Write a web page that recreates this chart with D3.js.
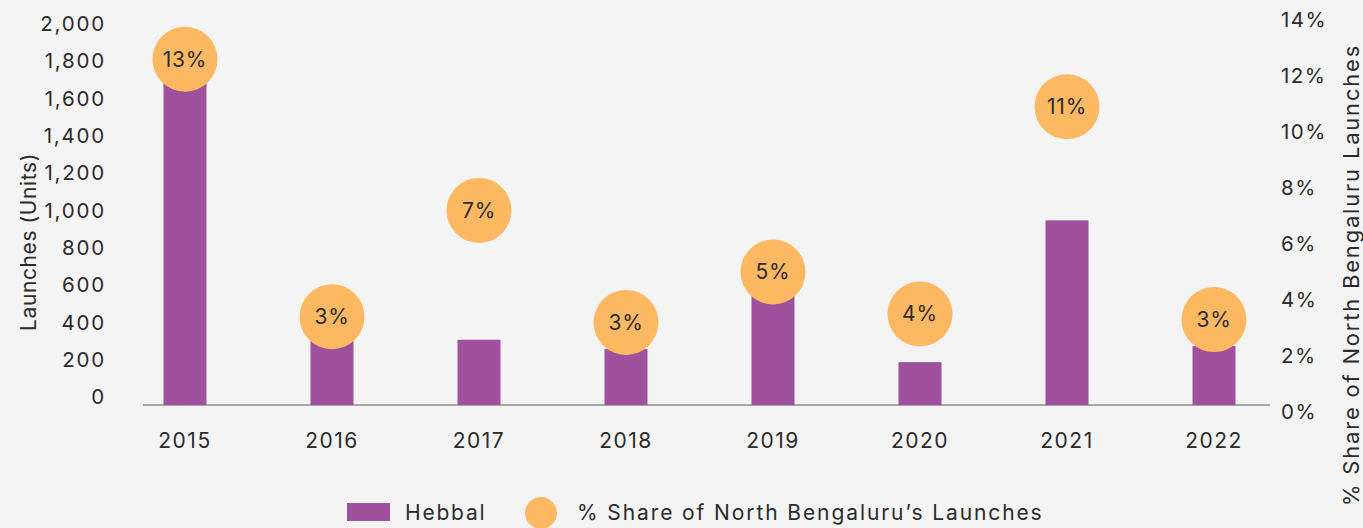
<!DOCTYPE html>
<html>
<head>
<meta charset="utf-8">
<script src="https://cdn.jsdelivr.net/npm/d3@7"></script>
<style>
  body { margin: 0; background: #f4f4f4; }
  svg { display: block; font-family: Inter, "Open Sans", sans-serif; }
</style>
</head>
<body>
<svg id="chart" width="1363" height="528"></svg>
<script>
var years = ["2015", "2016", "2017", "2018", "2019", "2020", "2021", "2022"];
var launches = [1760, 350, 350, 300, 600, 230, 990, 316];
var share = [12.6, 3.4, 7.2, 3.2, 5.0, 3.5, 10.9, 3.3];
var leftTicks = [0, 200, 400, 600, 800, 1000, 1200, 1400, 1600, 1800, 2000];
var rightTicks = [0, 2, 4, 6, 8, 10, 12, 14];

var svg = d3.select("#chart");
var purple = "#a0519e", orange = "#fdb962", txt = "#2b2b2b";

var x = d3.scalePoint().domain(years).range([111.5, 1287.5]).padding(0.5);
var yL = d3.scaleLinear().domain([0, 2000]).range([405, 32]);
var yR = d3.scaleLinear().domain([0, 14]).range([412, 20]);

// baseline
svg.append("line")
    .attr("x1", 143).attr("x2", 1270)
    .attr("y1", yL(0)).attr("y2", yL(0))
    .attr("stroke", "#8c8c8c").attr("stroke-width", 1.5);

// left axis labels
var fmt = d3.format(",");
svg.append("g").selectAll("text")
    .data(leftTicks)
    .enter().append("text")
    .attr("x", 106)
    .attr("y", function(d) { return yL(d) - 8; })
    .attr("dy", "0.35em")
    .attr("text-anchor", "end")
    .attr("font-size", 20.5)
    .attr("letter-spacing", 1.8)
    .attr("fill", txt)
    .text(function(d) { return fmt(d); });

// right axis labels
svg.append("g").selectAll("text")
    .data(rightTicks)
    .enter().append("text")
    .attr("x", 1281)
    .attr("y", function(d) { return yR(d); })
    .attr("dy", "0.35em")
    .attr("font-size", 20.5)
    .attr("letter-spacing", 1.5)
    .attr("fill", txt)
    .text(function(d) { return d + "%"; });

// x labels
svg.append("g").selectAll("text")
    .data(years)
    .enter().append("text")
    .attr("x", function(d) { return x(d); })
    .attr("y", 441)
    .attr("dy", "0.35em")
    .attr("text-anchor", "middle")
    .attr("font-size", 21)
    .attr("letter-spacing", 1.5)
    .attr("fill", txt)
    .text(function(d) { return d; });

// axis titles
svg.append("text")
    .attr("transform", "translate(36,242) rotate(-90)")
    .attr("text-anchor", "middle")
    .attr("font-size", 21)
    .attr("letter-spacing", 0.6)
    .attr("fill", txt)
    .text("Launches (Units)");

svg.append("text")
    .attr("transform", "translate(1359,275) rotate(-90)")
    .attr("text-anchor", "middle")
    .attr("font-size", 22)
    .attr("letter-spacing", 1.8)
    .attr("fill", txt)
    .text("% Share of North Bengaluru Launches");

// bars
svg.append("g").selectAll("rect")
    .data(years)
    .enter().append("rect")
    .attr("x", function(d) { return x(d) - 21.5; })
    .attr("width", 43)
    .attr("y", function(d, i) { return yL(launches[i]); })
    .attr("height", function(d, i) { return yL(0) - yL(launches[i]); })
    .attr("fill", purple);

// share bubbles
var bub = svg.append("g").selectAll("g")
    .data(years)
    .enter().append("g")
    .attr("transform", function(d, i) { return "translate(" + x(d) + "," + yR(share[i]) + ")"; });

bub.append("circle")
    .attr("r", 32.5)
    .attr("fill", orange);

bub.append("text")
    .attr("text-anchor", "middle")
    .attr("dy", "0.35em")
    .attr("font-size", 21)
    .attr("letter-spacing", 0.8)
    .attr("fill", txt)
    .text(function(d, i) { return Math.round(share[i]) + "%"; });

// legend
svg.append("rect")
    .attr("x", 347).attr("y", 503).attr("width", 43).attr("height", 18)
    .attr("fill", purple);
svg.append("text")
    .attr("x", 405).attr("y", 513).attr("dy", "0.35em")
    .attr("font-size", 21).attr("letter-spacing", 1.8).attr("fill", txt)
    .text("Hebbal");
svg.append("circle")
    .attr("cx", 541).attr("cy", 513).attr("r", 16)
    .attr("fill", orange);
svg.append("text")
    .attr("x", 577).attr("y", 513).attr("dy", "0.35em")
    .attr("font-size", 21).attr("letter-spacing", 1.9).attr("fill", txt)
    .text("% Share of North Bengaluru’s Launches");
</script>
</body>
</html>
